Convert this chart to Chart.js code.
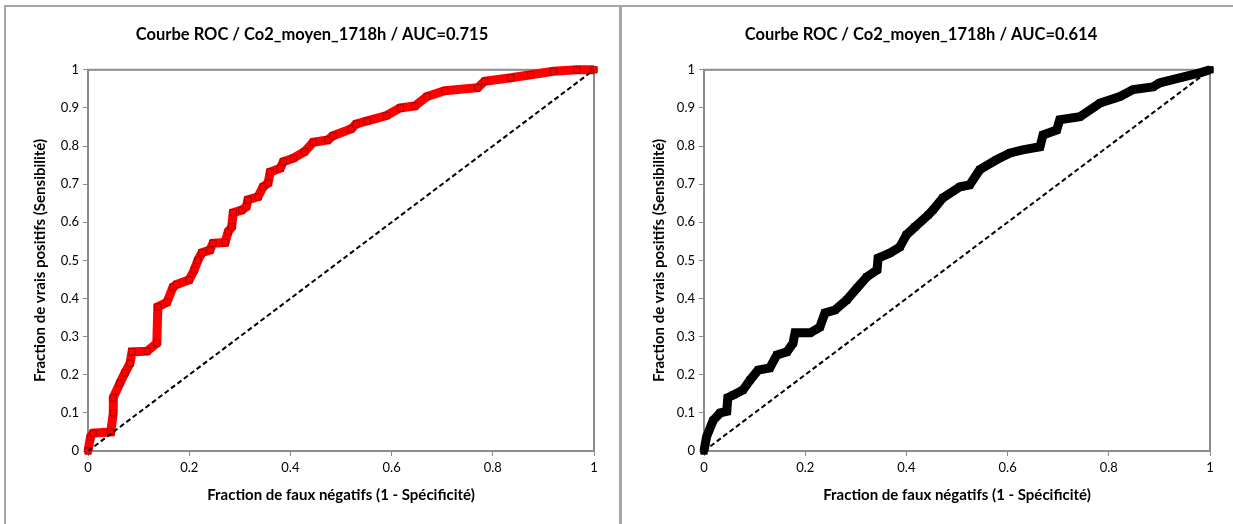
<!DOCTYPE html>
<html>
<head>
<meta charset="utf-8">
<script src="https://cdn.jsdelivr.net/npm/chart.js@4"></script>
<style>
  body { margin: 0; background: #fff; width: 1233px; height: 524px; overflow: hidden; position: relative; }
  .box { position: absolute; border: 2px solid #a6a6a6; box-sizing: border-box; }
  canvas { position: absolute; top: 0; }
</style>
</head>
<body>
<div class="box" style="left:4px; top:5px; width:618px; height:530px;"></div>
<div class="box" style="left:619px; top:5px; width:630px; height:530px;"></div>
<canvas id="rocLeft" width="620" height="524" style="left:0;"></canvas>
<canvas id="rocRight" width="613" height="524" style="left:620px;"></canvas>
<script>
// ROC 1 (AUC=0.715)
const leftFpr = [0, 0.005, 0.01, 0.045, 0.05, 0.05, 0.063, 0.073, 0.083, 0.087, 0.117, 0.136, 0.138, 0.156, 0.168, 0.175, 0.2, 0.21, 0.217, 0.225, 0.241, 0.247, 0.271, 0.277, 0.284, 0.287, 0.304, 0.313, 0.316, 0.336, 0.346, 0.356, 0.36, 0.38, 0.386, 0.406, 0.428, 0.445, 0.474, 0.484, 0.52, 0.53, 0.552, 0.59, 0.617, 0.646, 0.67, 0.705, 0.77, 0.784, 0.836, 0.875, 0.92, 0.966, 1];
const leftTpr = [0, 0.037, 0.047, 0.05, 0.10, 0.14, 0.178, 0.205, 0.23, 0.26, 0.262, 0.283, 0.378, 0.39, 0.43, 0.437, 0.449, 0.475, 0.5, 0.52, 0.527, 0.545, 0.547, 0.575, 0.588, 0.625, 0.632, 0.641, 0.659, 0.667, 0.693, 0.703, 0.732, 0.742, 0.759, 0.768, 0.785, 0.81, 0.816, 0.827, 0.845, 0.858, 0.866, 0.88, 0.9, 0.905, 0.93, 0.945, 0.953, 0.97, 0.979, 0.987, 0.996, 1.0, 1.0];

// ROC 2 (AUC=0.614)
const rightFpr = [0, 0.005, 0.018, 0.032, 0.045, 0.047, 0.058, 0.077, 0.091, 0.107, 0.13, 0.144, 0.164, 0.176, 0.18, 0.21, 0.229, 0.239, 0.259, 0.282, 0.302, 0.322, 0.342, 0.344, 0.367, 0.387, 0.4, 0.417, 0.443, 0.453, 0.472, 0.506, 0.525, 0.545, 0.578, 0.605, 0.63, 0.664, 0.67, 0.697, 0.703, 0.743, 0.783, 0.822, 0.848, 0.887, 0.901, 0.94, 0.98, 1];
const rightTpr = [0, 0.037, 0.08, 0.1, 0.104, 0.14, 0.147, 0.16, 0.186, 0.212, 0.218, 0.252, 0.26, 0.283, 0.31, 0.31, 0.325, 0.362, 0.37, 0.396, 0.427, 0.457, 0.475, 0.506, 0.519, 0.535, 0.567, 0.588, 0.619, 0.633, 0.664, 0.693, 0.698, 0.738, 0.764, 0.782, 0.79, 0.798, 0.829, 0.842, 0.869, 0.877, 0.913, 0.93, 0.948, 0.955, 0.966, 0.979, 0.992, 1];

// random-guess diagonal
const diagX = [0, 1];
const diagY = [0, 1];

const xTitle = 'Fraction de faux négatifs (1 - Spécificité)';
const yTitle = 'Fraction de vrais positifs (Sensibilité)';
const FONT = 'Lato, "Open Sans", sans-serif';
const AXIS_GREY = '#8c8c8c';

// grey frame on top/right of the plot, like Excel's plot area border
const frame = {
    id: 'frame',
    beforeDatasetsDraw(chart) {
        const a = chart.chartArea, ctx = chart.ctx;
        ctx.save();
        ctx.strokeStyle = AXIS_GREY;
        ctx.lineWidth = 2;
        ctx.strokeRect(a.left, a.top, a.right - a.left, a.bottom - a.top);
        ctx.restore();
    }
};

function toPoints(xs, ys) {
    return xs.map((x, i) => ({ x: x, y: ys[i] }));
}

// 0, 0.1 ... 1 without trailing zeros
const plain = (v) => String(+v.toFixed(1));

function rocChart(id, title, xs, ys, color, edge, pad, yWidth, yTitlePad) {
    const ctx = document.getElementById(id).getContext('2d');
    return new Chart(ctx, {
        type: 'scatter',
        data: {
            datasets: [
                {
                    data: toPoints(diagX, diagY),
                    showLine: true,
                    borderColor: '#000',
                    borderWidth: 2,
                    borderDash: [5, 3],
                    pointRadius: 0,
                },
                {
                    data: toPoints(xs, ys),
                    showLine: true,
                    borderColor: color,
                    borderWidth: 9,
                    borderJoinStyle: 'miter',
                    pointStyle: 'rect',
                    pointRadius: 4.5,
                    pointBackgroundColor: color,
                    pointBorderColor: edge,
                    pointBorderWidth: 1,
                    clip: false,
                },
            ],
        },
        options: {
            responsive: false,
            animation: false,
            layout: { padding: { left: pad[0], right: pad[1], top: 0, bottom: 0 } },
            plugins: {
                legend: { display: false },
                tooltip: { enabled: false },
                title: {
                    display: true,
                    text: title,
                    color: '#000',
                    font: { family: FONT, size: 16.5, weight: 'bold', lineHeight: 1.2 },
                    padding: { top: 25, bottom: 25 },
                },
            },
            scales: {
                x: {
                    type: 'linear',
                    min: 0,
                    max: 1,
                    afterFit: (s) => { s.height = 73; },
                    ticks: { stepSize: 0.2, color: '#000', padding: 4, callback: plain, font: { family: FONT, size: 13 } },
                    grid: { drawOnChartArea: false, color: AXIS_GREY, tickLength: 5, lineWidth: 1 },
                    border: { color: AXIS_GREY, width: 2 },
                    title: {
                        display: true,
                        text: xTitle,
                        color: '#000',
                        font: { family: FONT, size: 15, weight: 'bold', lineHeight: 1.2 },
                        padding: { top: 0, bottom: 20 },
                    },
                },
                y: {
                    type: 'linear',
                    min: 0,
                    max: 1,
                    afterFit: (s) => { s.width = yWidth; },
                    ticks: { stepSize: 0.1, color: '#000', padding: 4, callback: plain, font: { family: FONT, size: 13 } },
                    grid: { drawOnChartArea: false, color: AXIS_GREY, tickLength: 5, lineWidth: 1 },
                    border: { color: AXIS_GREY, width: 2 },
                    title: {
                        display: true,
                        text: yTitle,
                        color: '#000',
                        font: { family: FONT, size: 15, weight: 'bold', lineHeight: 1.2 },
                        padding: { top: yTitlePad, bottom: 0 },
                    },
                },
            },
        },
        plugins: [frame],
    });
}

rocChart('rocLeft', 'Courbe ROC / Co2_moyen_1718h / AUC=0.715', leftFpr, leftTpr, '#ff0000', '#b00000', [30, 26], 58, 1);
rocChart('rocRight', 'Courbe ROC / Co2_moyen_1718h / AUC=0.614', rightFpr, rightTpr, '#000000', '#000000', [12, 23], 72, 18);
</script>
</body>
</html>
